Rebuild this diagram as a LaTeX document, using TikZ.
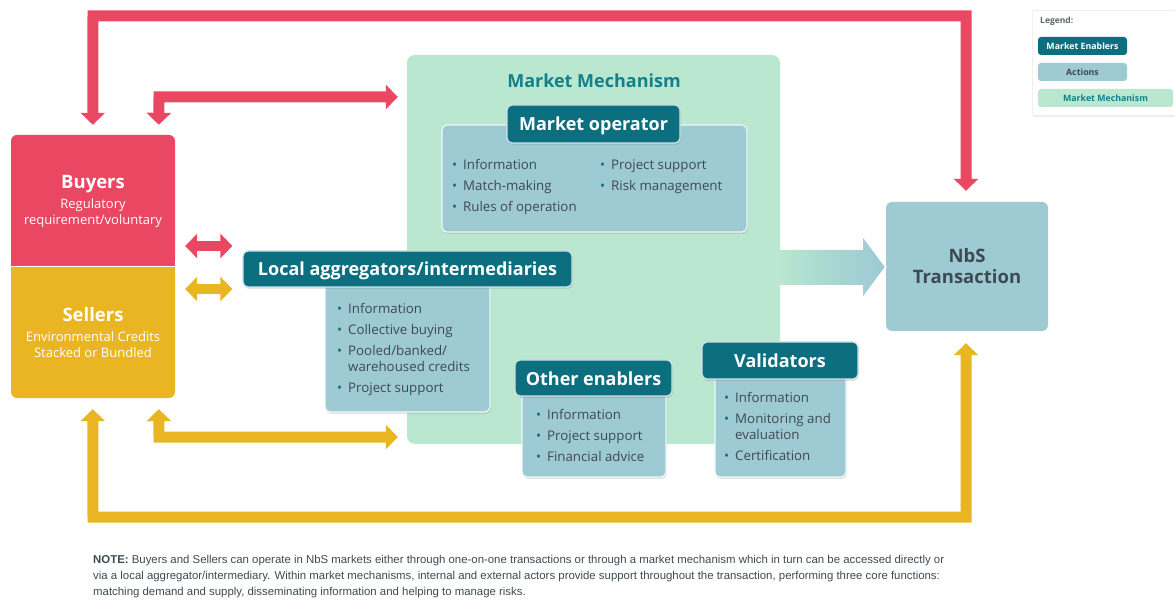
\documentclass[tikz,border=0pt]{standalone}
\usepackage{fontspec}
\setmainfont{Open Sans}
\newfontfamily\notefont{Liberation Sans}
\usetikzlibrary{arrows.meta,shadows,calc}
\definecolor{cred}{HTML}{EA4762}
\definecolor{cyel}{HTML}{E9B523}
\definecolor{cgreen}{HTML}{B9E7D0}
\definecolor{cteal}{HTML}{0C6F80}
\definecolor{cact}{HTML}{9DCAD3}
\definecolor{ctext}{HTML}{3E4A52}
\definecolor{ctitle}{HTML}{13808C}
\newcommand\bul{\textcolor{cteal}{\textbullet}\hspace{6pt}}
\newcommand\bulind{\hphantom{\textbullet}\hspace{6pt}}
\begin{document}
\begin{tikzpicture}[x=1pt,y=-1pt,
  shd/.style={drop shadow={opacity=0.22,shadow xshift=1pt,shadow yshift=-2pt}},
  actbox/.style={fill=cact,draw=white!85!cact,line width=1.2pt,rounded corners=5pt,shd,inner sep=0pt},
  enab/.style={fill=cteal,draw=white!80!cteal,line width=1.2pt,rounded corners=5pt,shd,inner sep=0pt,text=white,text height=14pt,text depth=0pt,font=\bfseries\fontsize{18}{21}\selectfont},
  items/.style={anchor=north west,inner sep=0pt,align=left,text=ctext,font=\fontsize{13.3}{21}\selectfont},
  fat/.style={line width=11pt},
  tipdd/.style={{Triangle[width=24pt,length=12pt]}-{Triangle[width=24pt,length=12pt]}},
]
\useasboundingbox (0,0) rectangle (1175,601);

% Buyers / Sellers
\node[fill=cred,rounded corners=6pt,minimum width=164pt,minimum height=131pt,inner sep=0pt] (buyers) at (93,200.5) {};
\fill[cred] ($(buyers.south west)+(0,-10)$) rectangle (buyers.south east);
\node[fill=cyel,rounded corners=6pt,minimum width=164pt,minimum height=132pt,inner sep=0pt] (sellers) at (93,332) {};
\fill[cyel] (sellers.north west) rectangle ($(sellers.north east)+(0,10)$);
\draw[white,line width=0.8pt] (buyers.south west) -- (buyers.south east);
\node[text=white,align=center,inner sep=0pt,font=\fontsize{13}{16}\selectfont] (bt) at (93,201) {\bfseries\fontsize{18.5}{20}\selectfont Buyers\\[4pt]\mdseries\fontsize{13}{16}\selectfont Regulatory\\requirement/voluntary};
\node[text=white,align=center,inner sep=0pt,font=\fontsize{13}{16}\selectfont] (st) at (93,333) {\bfseries\fontsize{18.5}{20}\selectfont Sellers\\[4pt]\mdseries\fontsize{13}{16}\selectfont Environmental Credits\\Stacked or Bundled};

% Market mechanism
\node[fill=cgreen,rounded corners=8pt,minimum width=373pt,minimum height=389pt,inner sep=0pt] (mm) at (593.5,249.5) {};
\node[text=ctitle,font=\bfseries\fontsize{18}{21}\selectfont,inner sep=0pt] (mmt) at (594,81) {Market Mechanism};

% NbS transaction
\node[fill=cact,rounded corners=6pt,minimum width=162pt,minimum height=129pt,inner sep=0pt,align=center,text=ctext,font=\bfseries\fontsize{18.5}{21}\selectfont] (nbs) at (967,266.5) {NbS\\Transaction};

% big arrow
\shade[left color=cgreen,right color=cact,middle color=cact!60!cgreen]
  (mm.east |- 0,250) -- (862,250) -- (862,235) -- (nbs.west |- 0,267) -- (862,299) -- (862,285) -- (mm.east |- 0,285) -- cycle;
\draw[white,line width=1.5pt,line join=miter] (862,250) -- (862,235) -- (nbs.west |- 0,267) -- (862,299) -- (862,285);

% Market operator
\node[actbox,minimum width=305pt,minimum height=107pt] (moa) at (594.5,178.5) {};
\node[enab,minimum width=173pt,minimum height=38pt] (mo) at (593.5,124) {Market operator};
\node[items] (mol) at (452,159.5) {\bul Information\\\bul Match-making\\\bul Rules of operation};
\node[items] (mor) at (600,159.5) {\bul Project support\\\bul Risk management};

% Local aggregators
\node[actbox,minimum width=165pt,minimum height=132pt] (aga) at (407.5,346) {};
\node[enab,minimum width=329pt,minimum height=36pt] (ag) at (407.5,269) {Local aggregators/intermediaries};
\node[items] (agl) at (337,303.5) {\bul Information\\\bul Collective buying\\\bul Pooled/banked/\\[-5pt]\bulind warehoused credits\\\bul Project support};

% Other enablers
\node[actbox,minimum width=144pt,minimum height=85pt] (oea) at (594,434.5) {};
\node[enab,minimum width=157pt,minimum height=36pt] (oe) at (593.5,378) {Other enablers};
\node[items] (oel) at (536,409.5) {\bul Information\\\bul Project support\\\bul Financial advice};

% Validators
\node[actbox,minimum width=131pt,minimum height=102pt] (vaa) at (780.5,426) {};
\node[enab,minimum width=156pt,minimum height=37pt] (va) at (780,360.5) {Validators};
\node[items] (val) at (724,392.5) {\bul Information\\\bul Monitoring and\\[-5pt]\bulind evaluation\\\bul Certification};

% Arrows red
\draw[cred,fat,tipdd] ($(buyers.north west)+(82,-10)$) -- (93,16) -- (966,16) -- ($(nbs.north)+(-1,-11)$);
\draw[cred,fat,tipdd] ($(buyers.north west)+(148,-10)$) -- (159,97) -- ($(mm.west |- 0,97)+(-9,0)$);
\draw[cred,line width=10pt,tipdd] ($(buyers.east |- 0,246)+(10,0)$) -- ($(ag.west |- 0,246)+(-10,0)$);
% Arrows yellow
\draw[cyel,line width=10pt,tipdd] ($(sellers.east |- 0,289)+(10,0)$) -- ($(ag.west |- 0,289)+(-10,0)$);
\draw[cyel,fat,tipdd] ($(sellers.south west)+(82,11)$) -- (93,517) -- (966,517) -- ($(nbs.south)+(-1,12)$);
\draw[cyel,fat,tipdd] ($(sellers.south west)+(148,11)$) -- (159,437) -- ($(mm.west |- 0,437)+(-9,0)$);

% Legend
\path[fill=black!8] (1034,12) rectangle (1190,117);
\path[fill=white,draw=black!6] (1032,10) rectangle (1190,115);
\node[anchor=west,text=ctext!85,font=\bfseries\fontsize{8.5}{10}\selectfont,inner sep=0pt] (lg) at (1040,21) {Legend:};
\node[fill=cteal,rounded corners=3pt,minimum width=89pt,minimum height=18pt,inner sep=0pt,text=white,font=\bfseries\fontsize{8.8}{10}\selectfont] (l1) at (1082.5,46) {Market Enablers};
\node[fill=cact,rounded corners=3pt,minimum width=89pt,minimum height=18pt,inner sep=0pt,text=ctext,font=\bfseries\fontsize{8.8}{10}\selectfont] (l2) at (1082.5,72) {Actions};
\node[fill=cgreen,rounded corners=3pt,minimum width=135pt,minimum height=18pt,inner sep=0pt,text=ctitle,font=\bfseries\fontsize{8.8}{10}\selectfont] (l3) at (1105.5,98) {Market Mechanism};

% Note
\node[anchor=north west,inner sep=0pt,align=left,text=ctext,font=\notefont\fontsize{11.4}{16}\selectfont] (note) at (93,555) {\textbf{NOTE:} Buyers and Sellers can operate in NbS markets either through one-on-one transactions or through a market mechanism which in turn can be accessed directly or\\via a local aggregator/intermediary. Within market mechanisms, internal and external actors provide support throughout the transaction, performing three core functions:\\matching demand and supply, disseminating information and helping to manage risks.};
\end{tikzpicture}
\end{document}
